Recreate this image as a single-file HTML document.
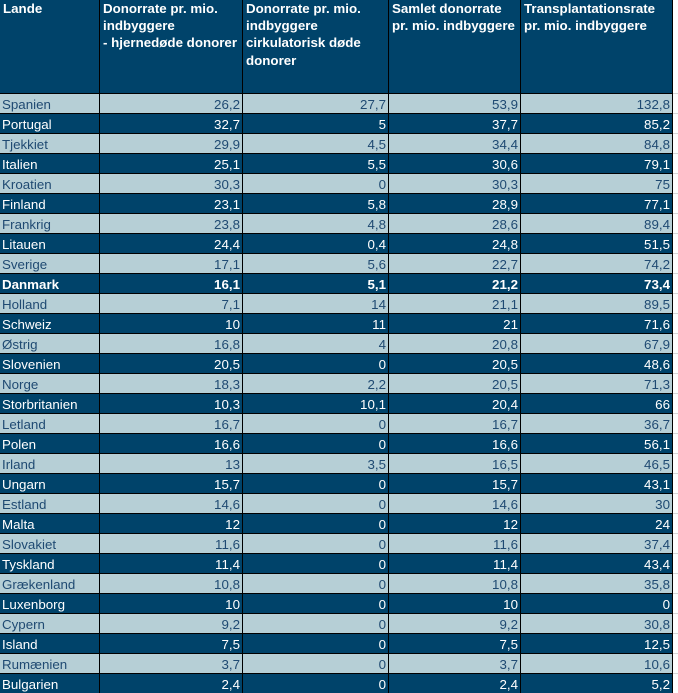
<!DOCTYPE html>
<html><head><meta charset="utf-8"><style>
*{margin:0;padding:0;box-sizing:border-box}
html,body{width:678px;height:693px;overflow:hidden;background:#fff}
body{font-family:"Liberation Sans",Arial,sans-serif;font-size:13.33px}
.r{display:flex;height:20px}
.r>div{height:20px;border-right:1px solid #000;border-bottom:1px solid #000;line-height:19px;padding-top:1px;white-space:nowrap;overflow:visible}
.h{height:94px}
.h>div{height:94px !important;background:#00436a;color:#fff;font-weight:bold;line-height:17.2px !important;padding:0 0 0 3px !important;border-right:1px solid #000;border-bottom:1px solid #000}
.c1{width:100px;padding-left:2px}
.c2{width:143px;text-align:right;padding-right:2px}
.c3{width:146px;text-align:right;padding-right:2px}
.c4{width:132px;text-align:right;padding-right:2px}
.c5{width:152px;text-align:right;padding-right:2px}
.r>div.sp{width:5px;border-right:none;border-bottom:1px solid #d8d8d8;background:#fff;padding:0}
.h>div.sp{background:#fff;border-right:none;border-bottom:1px solid #d8d8d8}
.l>div{background:#b6cfd6;color:#1f4a72}
.d>div{background:#00436a;color:#fff}
.b>div{font-weight:bold}
.r>div.sp{background:#fff}
</style></head><body>
<div class="r h">
<div class="c1" style="text-align:left">Lande</div>
<div class="c2" style="text-align:left">Donorrate pr. mio.<br>indbyggere<br>- hjernedøde donorer</div>
<div class="c3" style="text-align:left">Donorrate pr. mio.<br>indbyggere<br>cirkulatorisk døde<br>donorer</div>
<div class="c4" style="text-align:left">Samlet donorrate<br>pr. mio. indbyggere</div>
<div class="c5" style="text-align:left">Transplantationsrate<br>pr. mio. indbyggere</div>
<div class="sp"></div>
</div>
<div class="r l"><div class="c1">Spanien</div><div class="c2">26,2</div><div class="c3">27,7</div><div class="c4">53,9</div><div class="c5">132,8</div><div class="sp"></div></div>
<div class="r d"><div class="c1">Portugal</div><div class="c2">32,7</div><div class="c3">5</div><div class="c4">37,7</div><div class="c5">85,2</div><div class="sp"></div></div>
<div class="r l"><div class="c1">Tjekkiet</div><div class="c2">29,9</div><div class="c3">4,5</div><div class="c4">34,4</div><div class="c5">84,8</div><div class="sp"></div></div>
<div class="r d"><div class="c1">Italien</div><div class="c2">25,1</div><div class="c3">5,5</div><div class="c4">30,6</div><div class="c5">79,1</div><div class="sp"></div></div>
<div class="r l"><div class="c1">Kroatien</div><div class="c2">30,3</div><div class="c3">0</div><div class="c4">30,3</div><div class="c5">75</div><div class="sp"></div></div>
<div class="r d"><div class="c1">Finland</div><div class="c2">23,1</div><div class="c3">5,8</div><div class="c4">28,9</div><div class="c5">77,1</div><div class="sp"></div></div>
<div class="r l"><div class="c1">Frankrig</div><div class="c2">23,8</div><div class="c3">4,8</div><div class="c4">28,6</div><div class="c5">89,4</div><div class="sp"></div></div>
<div class="r d"><div class="c1">Litauen</div><div class="c2">24,4</div><div class="c3">0,4</div><div class="c4">24,8</div><div class="c5">51,5</div><div class="sp"></div></div>
<div class="r l"><div class="c1">Sverige</div><div class="c2">17,1</div><div class="c3">5,6</div><div class="c4">22,7</div><div class="c5">74,2</div><div class="sp"></div></div>
<div class="r d b"><div class="c1">Danmark</div><div class="c2">16,1</div><div class="c3">5,1</div><div class="c4">21,2</div><div class="c5">73,4</div><div class="sp"></div></div>
<div class="r l"><div class="c1">Holland</div><div class="c2">7,1</div><div class="c3">14</div><div class="c4">21,1</div><div class="c5">89,5</div><div class="sp"></div></div>
<div class="r d"><div class="c1">Schweiz</div><div class="c2">10</div><div class="c3">11</div><div class="c4">21</div><div class="c5">71,6</div><div class="sp"></div></div>
<div class="r l"><div class="c1">Østrig</div><div class="c2">16,8</div><div class="c3">4</div><div class="c4">20,8</div><div class="c5">67,9</div><div class="sp"></div></div>
<div class="r d"><div class="c1">Slovenien</div><div class="c2">20,5</div><div class="c3">0</div><div class="c4">20,5</div><div class="c5">48,6</div><div class="sp"></div></div>
<div class="r l"><div class="c1">Norge</div><div class="c2">18,3</div><div class="c3">2,2</div><div class="c4">20,5</div><div class="c5">71,3</div><div class="sp"></div></div>
<div class="r d"><div class="c1">Storbritanien</div><div class="c2">10,3</div><div class="c3">10,1</div><div class="c4">20,4</div><div class="c5">66</div><div class="sp"></div></div>
<div class="r l"><div class="c1">Letland</div><div class="c2">16,7</div><div class="c3">0</div><div class="c4">16,7</div><div class="c5">36,7</div><div class="sp"></div></div>
<div class="r d"><div class="c1">Polen</div><div class="c2">16,6</div><div class="c3">0</div><div class="c4">16,6</div><div class="c5">56,1</div><div class="sp"></div></div>
<div class="r l"><div class="c1">Irland</div><div class="c2">13</div><div class="c3">3,5</div><div class="c4">16,5</div><div class="c5">46,5</div><div class="sp"></div></div>
<div class="r d"><div class="c1">Ungarn</div><div class="c2">15,7</div><div class="c3">0</div><div class="c4">15,7</div><div class="c5">43,1</div><div class="sp"></div></div>
<div class="r l"><div class="c1">Estland</div><div class="c2">14,6</div><div class="c3">0</div><div class="c4">14,6</div><div class="c5">30</div><div class="sp"></div></div>
<div class="r d"><div class="c1">Malta</div><div class="c2">12</div><div class="c3">0</div><div class="c4">12</div><div class="c5">24</div><div class="sp"></div></div>
<div class="r l"><div class="c1">Slovakiet</div><div class="c2">11,6</div><div class="c3">0</div><div class="c4">11,6</div><div class="c5">37,4</div><div class="sp"></div></div>
<div class="r d"><div class="c1">Tyskland</div><div class="c2">11,4</div><div class="c3">0</div><div class="c4">11,4</div><div class="c5">43,4</div><div class="sp"></div></div>
<div class="r l"><div class="c1">Grækenland</div><div class="c2">10,8</div><div class="c3">0</div><div class="c4">10,8</div><div class="c5">35,8</div><div class="sp"></div></div>
<div class="r d"><div class="c1">Luxenborg</div><div class="c2">10</div><div class="c3">0</div><div class="c4">10</div><div class="c5">0</div><div class="sp"></div></div>
<div class="r l"><div class="c1">Cypern</div><div class="c2">9,2</div><div class="c3">0</div><div class="c4">9,2</div><div class="c5">30,8</div><div class="sp"></div></div>
<div class="r d"><div class="c1">Island</div><div class="c2">7,5</div><div class="c3">0</div><div class="c4">7,5</div><div class="c5">12,5</div><div class="sp"></div></div>
<div class="r l"><div class="c1">Rumænien</div><div class="c2">3,7</div><div class="c3">0</div><div class="c4">3,7</div><div class="c5">10,6</div><div class="sp"></div></div>
<div class="r d"><div class="c1">Bulgarien</div><div class="c2">2,4</div><div class="c3">0</div><div class="c4">2,4</div><div class="c5">5,2</div><div class="sp"></div></div>
</body></html>
